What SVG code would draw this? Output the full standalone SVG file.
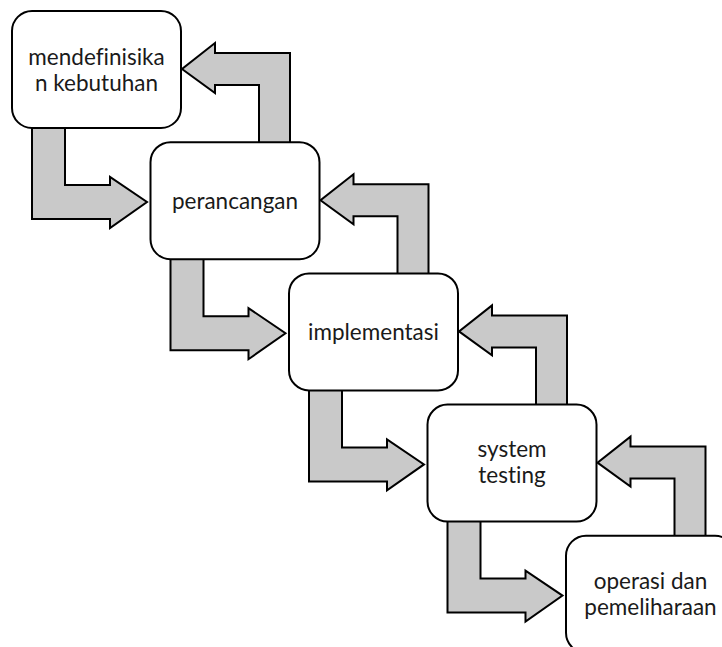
<svg xmlns="http://www.w3.org/2000/svg" xmlns:xlink="http://www.w3.org/1999/xlink" width="722" height="647" viewBox="0 0 722 647">
<style>
.arrow{fill:#c9c9c9;stroke:#000;stroke-width:2;stroke-linejoin:miter}
.box{fill:#fff;stroke:#000;stroke-width:2}
.lbl{font-family:Lato,"Open Sans",sans-serif;font-size:22.5px;fill:#1a1a1a;text-anchor:middle;font-variant-ligatures:none;font-feature-settings:"liga" 0,"clig" 0}
</style>
<defs>
<path id="dr" d="M32,127 L65,127 L65,185 L110,185 L110,177 L147,202 L110,228 L110,219 L32,219 Z"/>
<path id="ul" d="M290,144 L290,53 L215,53 L215,43 L182,69 L215,93 L215,85 L259,85 L259,144 Z"/>
</defs>
<rect width="722" height="647" fill="#fff"/>
<g id="connectors">
<use xlink:href="#dr" class="arrow"/>
<use xlink:href="#ul" class="arrow"/>
<use xlink:href="#dr" class="arrow" transform="translate(138.5,131.2)"/>
<use xlink:href="#ul" class="arrow" transform="translate(138.5,131.2)"/>
<use xlink:href="#dr" class="arrow" transform="translate(277,262.4)"/>
<use xlink:href="#ul" class="arrow" transform="translate(277,262.4)"/>
<use xlink:href="#dr" class="arrow" transform="translate(415.5,393.6)"/>
<use xlink:href="#ul" class="arrow" transform="translate(415.5,393.6)"/>
</g>
<g id="node1">
<rect class="box" x="12" y="11" width="169" height="117" rx="20"/>
<text class="lbl" x="96.5" y="65">mendefinisika</text>
<text class="lbl" x="96.5" y="91">n kebutuhan</text>
</g>
<g id="node2">
<rect class="box" x="150.5" y="142.2" width="169" height="117" rx="20"/>
<text class="lbl" x="235" y="208.5">perancangan</text>
</g>
<g id="node3">
<rect class="box" x="289" y="273.4" width="169" height="117" rx="20"/>
<text class="lbl" x="373.5" y="339.5">implementasi</text>
</g>
<g id="node4">
<rect class="box" x="427.5" y="404.6" width="169" height="117" rx="20"/>
<text class="lbl" x="512" y="457">system</text>
<text class="lbl" x="512" y="483">testing</text>
</g>
<g id="node5">
<rect class="box" x="566" y="535.8" width="169" height="117" rx="20"/>
<text class="lbl" x="650.5" y="588.5">operasi dan</text>
<text class="lbl" x="650.5" y="614.5">pemeliharaan</text>
</g>
</svg>
